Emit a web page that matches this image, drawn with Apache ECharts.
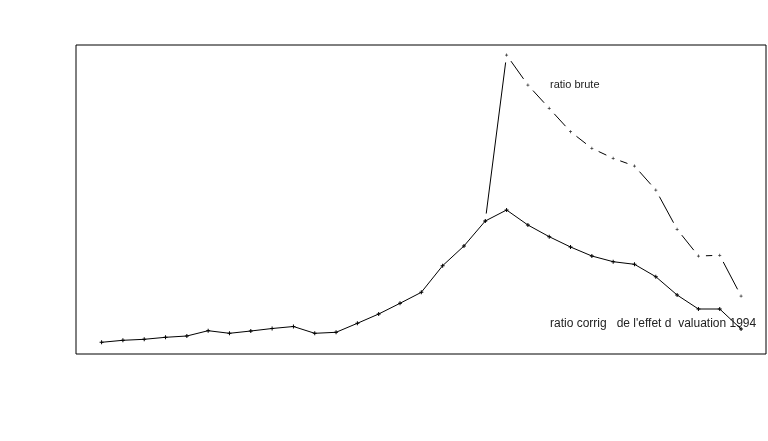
<!DOCTYPE html>
<html>
<head>
<meta charset="utf-8">
<script src="https://cdn.jsdelivr.net/npm/echarts@6/dist/echarts.min.js"></script>
<style>html,body{margin:0;padding:0;background:#fff}#c{width:768px;height:441px}</style>
</head>
<body>
<div id="c"></div>
<script>
var years = [1964,1965,1966,1967,1968,1969,1970,1971,1972,1973,1974,1975,1976,1977,1978,1979,1980,1981,1982,1983,1984,1985,1986,1987,1988,1989,1990,1991,1992,1993,1994];
var ratioCorrige = [1.17,1.37,1.47,1.67,1.80,2.33,2.07,2.30,2.55,2.75,2.07,2.17,3.07,4.00,5.07,6.17,8.83,10.80,13.30,14.40,12.90,11.73,10.70,9.80,9.23,8.97,7.73,5.90,4.50,4.50,2.50];
var ratioBrute = [null,null,null,null,null,null,null,null,null,null,null,null,null,null,null,null,null,null,13.30,29.90,26.90,24.57,22.23,20.57,19.57,18.80,16.40,12.47,9.80,9.87,5.80];
var labelBrute = "ratio brute";
var labelCorrige = "ratio corrig   de l'effet d  valuation 1994";

var brutePoints = [];
var bruteSegments = [];
for (var i = 0; i < years.length; i++) {
  if (ratioBrute[i] !== null) brutePoints.push([years[i], ratioBrute[i]]);
  if (i + 1 < years.length && ratioBrute[i] !== null && ratioBrute[i + 1] !== null) {
    bruteSegments.push([years[i], ratioBrute[i], years[i + 1], ratioBrute[i + 1]]);
  }
}

var plus = 'path://M-1,-0.25H1V0.25H-1Z M-0.25,-1H0.25V1H-0.25Z';
var chart = echarts.init(document.getElementById('c'));
chart.setOption({
  animation: false,
  grid: {left: 76, top: 45, width: 690, height: 309, show: true, borderColor: '#000', borderWidth: 1, backgroundColor: 'transparent'},
  xAxis: {type: 'value', min: 1962.8, max: 1995.17, show: false},
  yAxis: {type: 'value', min: 0, max: 30.9, show: false},
  series: [
    {type: 'line', data: years.map(function(y,i){return [y, ratioCorrige[i]];}),
     symbol: plus, symbolSize: 4, showSymbol: true,
     itemStyle: {color: '#000'}, lineStyle: {color: '#000', width: 1}},
    {type: 'scatter', data: brutePoints, symbol: plus, symbolSize: 3,
     itemStyle: {color: '#000'}},
    {type: 'custom', data: bruteSegments,
     renderItem: function (params, api) {
       var p1 = api.coord([api.value(0), api.value(1)]);
       var p2 = api.coord([api.value(2), api.value(3)]);
       var dx = p2[0] - p1[0], dy = p2[1] - p1[1];
       var len = Math.sqrt(dx * dx + dy * dy);
       var g = 7.5;
       if (len <= 2 * g) return null;
       var ux = dx / len, uy = dy / len;
       return {type: 'line',
         shape: {x1: p1[0] + ux * g, y1: p1[1] + uy * g, x2: p2[0] - ux * g, y2: p2[1] - uy * g},
         style: {stroke: '#000', lineWidth: 1}};
     }}
  ],
  graphic: [
    {type: 'text', left: 550, top: 79, style: {text: labelBrute, font: '11px "Liberation Sans", Arial, sans-serif', fill: '#222'}},
    {type: 'text', left: 550, top: 318, style: {text: labelCorrige, font: '12px "Liberation Sans", Arial, sans-serif', fill: '#222'}}
  ]
});
</script>
</body>
</html>
